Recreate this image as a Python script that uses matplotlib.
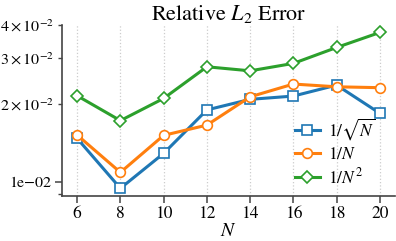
import matplotlib
matplotlib.use("Agg")
import matplotlib.pyplot as plt
import matplotlib.ticker as mticker

N = [6, 8, 10, 12, 14, 16, 18, 20]
err_sqrt = [0.0147, 0.00946, 0.01288, 0.0189, 0.02075, 0.02136, 0.02353, 0.01834]
err_inv = [0.01514, 0.01089, 0.0151, 0.01653, 0.02122, 0.02375, 0.02318, 0.0230]
err_inv2 = [0.02142, 0.01720, 0.02092, 0.02766, 0.02669, 0.0285, 0.0328, 0.03745]

labels = [r"$1/\sqrt{N}$", r"$1/N$", r"$1/N^2$"]
series = [err_sqrt, err_inv, err_inv2]
markers = ["s", "o", "D"]
colors = ["#1f77b4", "#ff7f0e", "#2ca02c"]

plt.rcParams["font.family"] = "serif"
plt.rcParams["font.serif"] = ["STIXGeneral", "Liberation Serif", "DejaVu Serif"]
plt.rcParams["mathtext.fontset"] = "stix"

fig = plt.figure(figsize=(3.96, 2.41), dpi=100)
ax = fig.add_axes([0.1566, 0.1867, 0.8409, 0.7096])

for ys, lab, m, c in zip(series, labels, markers, colors):
    ax.plot(N, ys, marker=m, color=c, label=lab, lw=2.2,
            ms=7 if m != "D" else 6.5, mfc="white", mec=c, mew=1.2)

ax.set_yscale("log")
ax.set_ylim(0.00884, 0.0400)
ax.set_xticks(N)
ax.yaxis.set_major_formatter(
    mticker.FuncFormatter(lambda v, p: f"{v:.0e}".replace("-", "\u2212")))
ax.yaxis.set_minor_formatter(mticker.LogFormatterSciNotation())

ax.grid(axis="x", ls=":", color="#cccccc", lw=0.9)
ax.set_axisbelow(True)
for s in ["top", "right"]:
    ax.spines[s].set_visible(False)
for s in ["left", "bottom"]:
    ax.spines[s].set_color("#444444")
    ax.spines[s].set_linewidth(1.2)
ax.tick_params(which="major", length=5, width=1.1, color="#444444")
ax.tick_params(which="minor", length=3, width=1.0, color="#444444")
ax.tick_params(axis="x", which="both", pad=2.5, labelsize=12.5)
ax.tick_params(axis="y", which="both", pad=2.5, labelsize=11.5)

ax.set_title(r"Relative $L_2$ Error", fontsize=16, pad=3)
ax.set_xlabel(r"$N$", fontsize=14, labelpad=0)
ax.legend(loc="lower right", bbox_to_anchor=(0.99, -0.04), frameon=False,
          fontsize=12.5, handlelength=1.45, handletextpad=0.5, labelspacing=0.25)

fig.savefig("out.png", dpi=100)
